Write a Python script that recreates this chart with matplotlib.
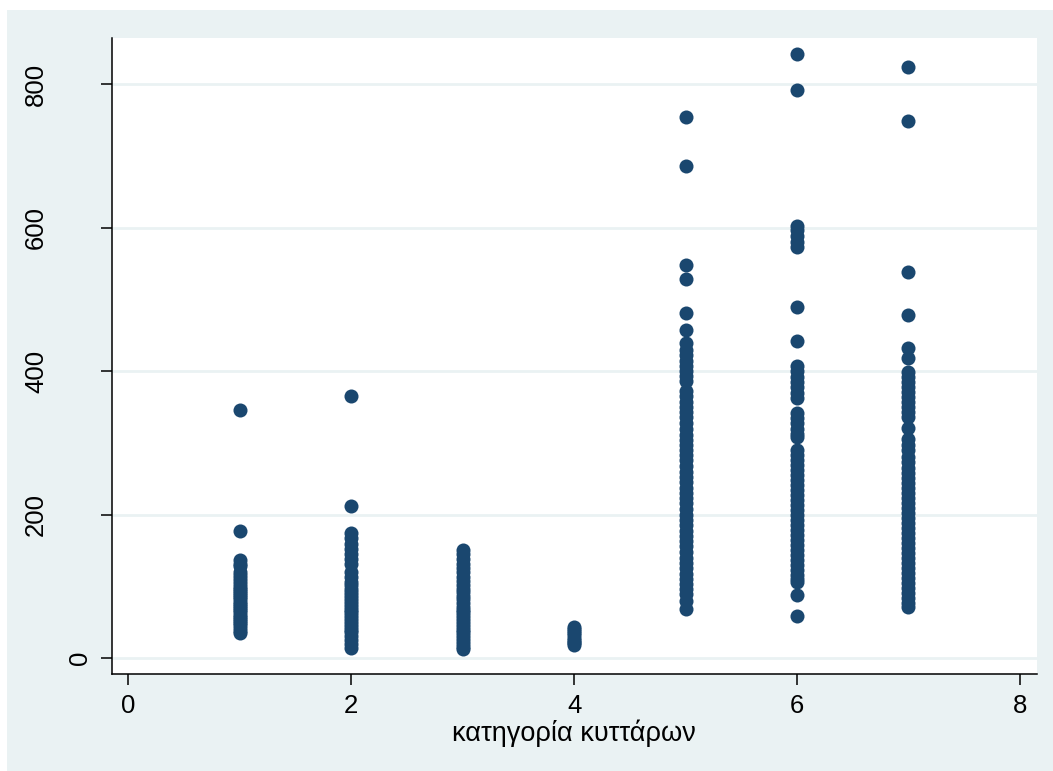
import numpy as np
import matplotlib.pyplot as plt
import matplotlib.transforms as mtransforms
from matplotlib.patches import Rectangle

# values, one list per cell category
cat1 = [346, 177, 137, 132, 128, 121, 116, 112, 108, 104, 100, 97, 94, 91, 88,
        85, 82, 79, 76, 73, 70, 67, 64, 61, 58, 55, 52, 49, 46, 42, 38, 35]
cat2 = [366, 213, 175, 168, 160, 152, 145, 138, 131, 120, 113, 107, 102, 97, 92,
        88, 84, 80, 76, 72, 68, 64, 60, 56, 52, 48, 44, 40, 36, 31, 26, 20, 15]
cat3 = [151, 145, 138, 132, 126, 120, 114, 108, 102, 97, 92, 87, 82, 77, 72, 68,
        64, 60, 56, 52, 48, 44, 40, 36, 32, 28, 24, 20, 16, 13]
cat4 = [44, 41, 38, 35, 32, 29, 26, 23, 21, 19]
cat5 = [755, 686, 548, 529, 482, 458, 439, 430, 423, 415, 408, 400, 393, 386,
        372, 365, 358, 350, 343, 336, 328, 320, 312, 305, 298, 290, 283, 276,
        268, 260, 253, 246, 238, 230, 223, 216, 208, 200, 193, 186, 178, 170,
        163, 156, 148, 140, 133, 126, 118, 110, 103, 96, 89, 80, 69]
cat6 = [842, 792, 603, 597, 589, 580, 574, 490, 442, 408, 400, 392, 385, 378,
        370, 363, 342, 335, 328, 320, 313, 308, 290, 283, 276, 270, 263, 256,
        249, 242, 235, 228, 221, 214, 207, 200, 193, 186, 179, 172, 165, 158,
        151, 144, 137, 130, 123, 116, 110, 106, 88, 59]
cat7 = [825, 749, 539, 478, 432, 419, 399, 392, 385, 378, 371, 364, 357, 350,
        343, 337, 321, 306, 298, 290, 280, 273, 266, 259, 252, 245, 238, 231,
        224, 217, 210, 203, 196, 189, 182, 175, 168, 161, 154, 147, 140, 133,
        126, 119, 112, 105, 98, 91, 84, 77, 71]

categories = [1, 2, 3, 4, 5, 6, 7]
series = [cat1, cat2, cat3, cat4, cat5, cat6, cat7]
x_ticks = [0, 2, 4, 6, 8]
y_ticks = [0, 200, 400, 600, 800]
x_title = 'κατηγορία κυττάρων'

BG = '#EAF2F3'
NAVY = '#1A476F'

plt.rcParams['font.family'] = ['Liberation Sans', 'DejaVu Sans']

fig = plt.figure(figsize=(10.53, 7.71), dpi=100, facecolor=BG)
# thin white strips top and left (the reference is cropped that way)
fig.patches.append(Rectangle((0, (771 - 10) / 771), 1, 10 / 771,
                             transform=fig.transFigure, facecolor='white',
                             edgecolor='none'))
fig.patches.append(Rectangle((0, 0), 7 / 1053, 1,
                             transform=fig.transFigure, facecolor='white',
                             edgecolor='none'))

ax = fig.add_axes([111.7 / 1053, 1 - 674.3 / 771,
                   (1037 - 111.7) / 1053, (674.3 - 38) / 771])
ax.set_facecolor('white')

for cat, vals in zip(categories, series):
    ax.scatter(np.full(len(vals), cat), vals, s=102, color=NAVY,
               linewidths=0, zorder=3)

ax.set_xlim(-0.149, 8.153)
ax.set_ylim(-22.3, 864.8)
ax.set_xticks(x_ticks)
ax.set_yticks(y_ticks)
ax.set_yticklabels([])

for s in ['top', 'right']:
    ax.spines[s].set_visible(False)
for s in ['left', 'bottom']:
    ax.spines[s].set_linewidth(1.1)
    ax.spines[s].set_color('black')

ax.grid(axis='y', color=BG, linewidth=2.0, zorder=1)
ax.tick_params(axis='both', direction='out', length=8, width=1.1,
               color='black', labelsize=18.5)
ax.tick_params(axis='x', pad=6.5)

# rotated y labels, placed like the reference (the "0" sits closer to the axis)
trans = mtransforms.blended_transform_factory(fig.transFigure, ax.transData)
for v in y_ticks:
    xpix = 80 if v == 0 else 36
    ax.text(xpix / 1053, v, str(v), transform=trans, rotation=90,
            ha='center', va='center', fontsize=18.5)

ax.set_xlabel(x_title, fontsize=19.5, labelpad=1)

fig.savefig('out.png', dpi=100, facecolor=fig.get_facecolor())
